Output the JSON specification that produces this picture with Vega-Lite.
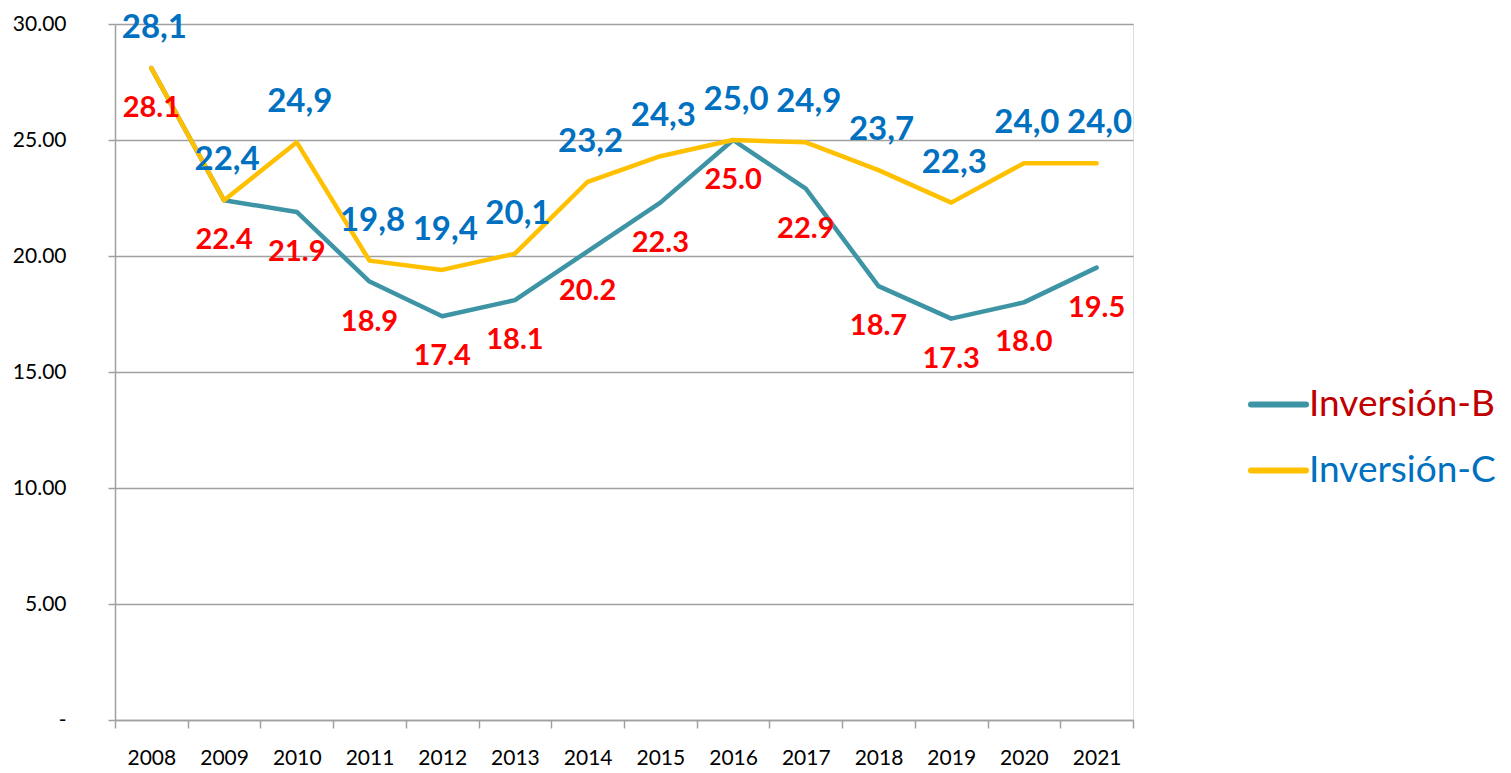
{
  "$schema": "https://vega.github.io/schema/vega-lite/v6.json",
  "autosize": "none",
  "width": 1018,
  "height": 696,
  "padding": {"left": 115, "top": 24, "right": 378, "bottom": 53},
  "background": "white",
  "data": {
    "values": [
      {"year": "2008", "B": 28.1, "C": 28.1},
      {"year": "2009", "B": 22.4, "C": 22.4},
      {"year": "2010", "B": 21.9, "C": 24.9},
      {"year": "2011", "B": 18.9, "C": 19.8},
      {"year": "2012", "B": 17.4, "C": 19.4},
      {"year": "2013", "B": 18.1, "C": 20.1},
      {"year": "2014", "B": 20.2, "C": 23.2},
      {"year": "2015", "B": 22.3, "C": 24.3},
      {"year": "2016", "B": 25.0, "C": 25.0},
      {"year": "2017", "B": 22.9, "C": 24.9},
      {"year": "2018", "B": 18.7, "C": 23.7},
      {"year": "2019", "B": 17.3, "C": 22.3},
      {"year": "2020", "B": 18.0, "C": 24.0},
      {"year": "2021", "B": 19.5, "C": 24.0}
    ]
  },
  "encoding": {
    "x": {
      "field": "year",
      "type": "ordinal",
      "scale": {"paddingInner": 0, "paddingOuter": 0},
      "axis": {
        "title": null,
        "labelAngle": 0,
        "labelFont": "Lato",
        "labelFontSize": 21,
        "labelColor": "#000000",
        "labelPadding": 19,
        "domainColor": "#A0A0A0",
        "domainWidth": 1.5,
        "tickColor": "#A0A0A0",
        "tickWidth": 1.5,
        "tickSize": 8,
        "tickBand": "extent",
        "grid": false
      }
    }
  },
  "layer": [
    {
      "mark": {"type": "line", "strokeWidth": 4.5, "strokeCap": "round", "strokeJoin": "round"},
      "encoding": {
        "y": {
          "field": "B",
          "type": "quantitative",
          "scale": {"domain": [0, 30], "nice": false},
          "axis": {
            "title": null,
            "values": [0, 5, 10, 15, 20, 25, 30],
            "labelExpr": "datum.value == 0 ? '-' : format(datum.value, '.2f')",
            "labelFont": "Lato",
            "labelFontSize": 21,
            "labelColor": "#000000",
            "labelPadding": 42,
            "domainColor": "#A0A0A0",
            "domainWidth": 1.5,
            "tickColor": "#A0A0A0",
            "tickWidth": 1.5,
            "tickSize": 7,
            "grid": true,
            "gridColor": "#A0A0A0",
            "gridWidth": 1.5
          }
        },
        "color": {
          "datum": "Inversión-B",
          "type": "nominal",
          "scale": {"domain": ["Inversión-B", "Inversión-C"], "range": ["#3D94A5", "#FFC000"]},
          "legend": {
            "title": null,
            "orient": "none",
            "legendX": 1133,
            "legendY": 350,
            "padding": 0,
            "symbolType": "stroke",
            "symbolSize": 3025,
            "symbolStrokeWidth": 6,
            "labelFont": "Lato",
            "labelFontSize": 37,
            "labelOffset": 0,
            "labelLimit": 400,
            "rowPadding": 17,
            "encode": {
              "symbols": {"update": {"strokeCap": {"value": "round"}}},
              "labels": {
                "update": {
                  "fill": {"signal": "datum.label == 'Inversión-B' ? '#C00000' : '#0070C0'"}
                }
              }
            }
          }
        }
      }
    },
    {
      "mark": {"type": "line", "strokeWidth": 4.5, "strokeCap": "round", "strokeJoin": "round"},
      "encoding": {
        "y": {"field": "C", "type": "quantitative"},
        "color": {"datum": "Inversión-C", "type": "nominal"}
      }
    },
    {
      "mark": {"type": "text", "font": "Lato", "fontWeight": "bold", "fontSize": 29, "color": "#FF0000", "dy": 40, "baseline": "middle", "align": "center"},
      "encoding": {
        "y": {"field": "B", "type": "quantitative"},
        "text": {"field": "B", "type": "quantitative", "format": ".1f"}
      }
    },
    {
      "mark": {"type": "text", "font": "Lato", "fontWeight": "bold", "fontSize": 33, "color": "#0070C0", "dy": -40, "dx": 3, "baseline": "middle", "align": "center",
        "text": {"expr": "replace(format(datum.C, '.1f'), '.', ',')"}},
      "encoding": {
        "y": {"field": "C", "type": "quantitative"}
      }
    }
  ]
}
